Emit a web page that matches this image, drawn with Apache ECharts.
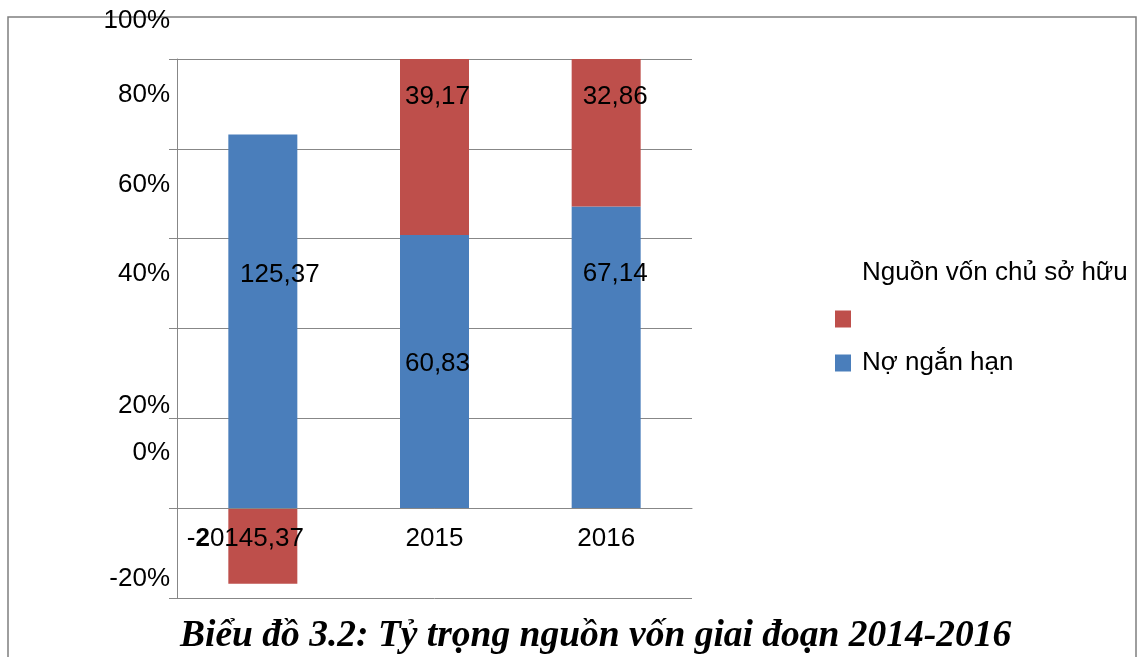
<!DOCTYPE html>
<html>
<head>
<meta charset="utf-8">
<title>Biểu đồ 3.2</title>
<script src="https://cdn.jsdelivr.net/npm/echarts@6/dist/echarts.min.js"></script>
<style>
  html, body { margin: 0; padding: 0; background: #fff; }
  #chart { width: 1143px; height: 657px; }
</style>
</head>
<body>
<div id="chart"></div>
<script>
// du lieu bieu do
const years = ['2014', '2015', '2016'];
const noNganHan = [125.37, 60.83, 67.14];   // Nợ ngắn hạn
const vonChuSoHuu = [-25.37, 39.17, 32.86]; // Nguồn vốn chủ sở hữu
const yTicks = [-20, 0, 20, 40, 60, 80, 100];

// labels in the original sit off their ticks / bars, nudge them
const yLabelLift = [19, 55, 13, 55, 54, 54, 38];
const blueNudge = [[17, -47], [3, -8], [9, -84]];
const redNudge = [[0, 0], [3, -50], [9, -36]];

const blue = '#4A7EBB';
const red = '#BE4F4B';
const grey = '#878787';
const font = 'Liberation Sans, Arial, sans-serif';

const gridTop = 59, gridBottom = 59, yMin = -20, yMax = 100;

function fmt(v) {
  return v.toFixed(2).replace('.', ',');
}

// 100% stacked on absolute values
function share(i, v) {
  return v / (Math.abs(noNganHan[i]) + Math.abs(vonChuSoHuu[i])) * 100;
}

const yRich = {};
yTicks.forEach(function (t, i) {
  yRich['k' + i] = { fontSize: 26, lineHeight: 26, color: '#000', fontFamily: font, padding: [0, 0, yLabelLift[i] * 2, 0] };
});

const blueData = noNganHan.map(function (v, i) {
  return { value: share(i, v), label: { offset: blueNudge[i], formatter: fmt(v) } };
});
const redData = vonChuSoHuu.map(function (v, i) {
  return { value: share(i, v), label: { show: v > 0, offset: redNudge[i], formatter: fmt(v) } };
});

// category axis sits on the zero line
const plotH = 657 - gridTop - gridBottom;
const zeroOffset = -plotH * (0 - yMin) / (yMax - yMin);

const chart = echarts.init(document.getElementById('chart'));
chart.setOption({
  backgroundColor: '#fff',
  animation: false,
  title: {
    text: 'Biểu đồ 3.2: Tỷ trọng nguồn vốn giai đoạn 2014-2016',
    left: 180,
    top: 617,
    padding: 0,
    textStyle: {
      fontFamily: 'Liberation Serif, Times New Roman, serif',
      fontStyle: 'italic',
      fontWeight: 'bold',
      fontSize: 37.5,
      color: '#000'
    }
  },
  legend: [
    {
      data: ['Nguồn vốn chủ sở hữu'],
      left: 835,
      top: 260,
      padding: 0,
      icon: 'rect',
      itemWidth: 16,
      itemHeight: 17,
      selectedMode: false,
      formatter: '{up|{name}}',
      textStyle: {
        rich: { up: { fontSize: 26, lineHeight: 26, color: '#000', fontFamily: font, padding: [0, 0, 92, 6] } }
      }
    },
    {
      data: ['Nợ ngắn hạn'],
      left: 835,
      top: 350,
      padding: 0,
      icon: 'rect',
      itemWidth: 16,
      itemHeight: 17,
      selectedMode: false,
      formatter: '{t|{name}}',
      textStyle: {
        rich: { t: { fontSize: 26, lineHeight: 26, color: '#000', fontFamily: font, padding: [0, 0, 0, 6] } }
      }
    }
  ],
  grid: {
    left: 177,
    right: 451,
    top: gridTop,
    bottom: gridBottom,
    containLabel: false,
    outerBoundsMode: 'none'
  },
  xAxis: {
    type: 'category',
    data: years,
    position: 'bottom',
    offset: zeroOffset,
    z: 3,
    axisLine: { onZero: false, lineStyle: { color: grey, width: 1 } },
    axisTick: { length: 6, lineStyle: { color: grey } },
    axisLabel: {
      interval: 0,
      margin: 18,
      fontSize: 26,
      color: '#000',
      fontFamily: font,
      // first year label runs into the negative value label
      formatter: function (value, index) {
        if (index === 0) {
          const s = fmt(vonChuSoHuu[0]);
          return '{t|' + s[0] + '}{b|' + value[0] + '}{e|' + value.slice(1) + s.slice(2) + '}';
        }
        return value;
      },
      rich: {
        t: { fontSize: 26, color: '#000', fontFamily: font },
        b: { fontSize: 26, color: '#000', fontFamily: font, fontWeight: 'bold' },
        e: { fontSize: 26, color: '#000', fontFamily: font, padding: [0, 35, 0, 0] }
      }
    }
  },
  yAxis: [
    {
      // value scale: bars, grid lines, ticks
      type: 'value',
      min: yMin,
      max: yMax,
      interval: 20,
      axisLine: { show: true, lineStyle: { color: grey, width: 1 } },
      axisTick: { show: true, length: 8, lineStyle: { color: grey } },
      splitLine: { lineStyle: { color: grey, width: 1 } },
      axisLabel: { show: false }
    },
    {
      // tick labels only, on the same ticks
      type: 'category',
      position: 'left',
      boundaryGap: false,
      data: yTicks,
      axisLine: { show: false },
      axisTick: { show: false },
      splitLine: { show: false },
      axisLabel: {
        interval: 0,
        margin: 7,
        hideOverlap: false,
        formatter: function (v) {
          return '{k' + yTicks.indexOf(Number(v)) + '|' + v + '%}';
        },
        rich: yRich
      }
    }
  ],
  series: [
    {
      name: 'Nợ ngắn hạn',
      type: 'bar',
      stack: 'total',
      barWidth: 69,
      itemStyle: { color: blue },
      label: { show: true, position: 'inside', fontSize: 26, color: '#000', fontFamily: font },
      data: blueData
    },
    {
      name: 'Nguồn vốn chủ sở hữu',
      type: 'bar',
      stack: 'total',
      barWidth: 69,
      itemStyle: { color: red },
      label: { show: true, position: 'inside', fontSize: 26, color: '#000', fontFamily: font },
      data: redData
    }
  ],
  graphic: [
    {
      type: 'rect',
      silent: true,
      z: -1,
      shape: { x: 8, y: 17, width: 1128, height: 700 },
      style: { fill: 'none', stroke: '#7f7f7f', lineWidth: 1.5 }
    }
  ]
});
</script>
</body>
</html>
